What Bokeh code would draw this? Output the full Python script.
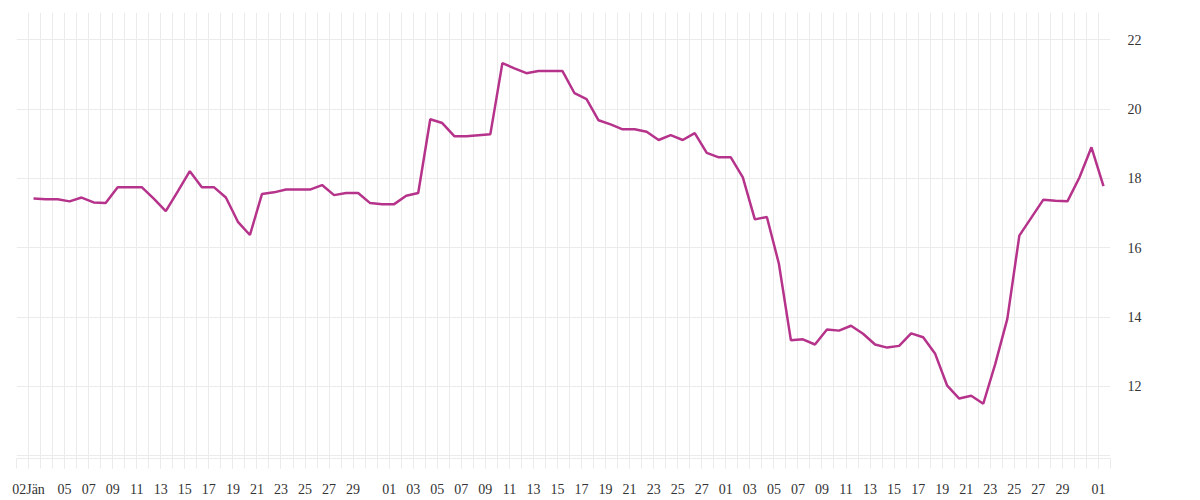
import pandas as pd
from bokeh.plotting import figure
from bokeh.models import Range1d, FixedTicker
from bokeh.embed import file_html
from bokeh.resources import INLINE

# daily values, 02 Jän .. 01 Apr
values = [
    17.42, 17.40, 17.40, 17.34, 17.45, 17.31, 17.29, 17.75, 17.75, 17.75,
    17.42, 17.06, 17.63, 18.21, 17.75, 17.75, 17.45, 16.75, 16.37, 17.55,
    17.60, 17.68, 17.68, 17.68, 17.81, 17.52, 17.58, 17.58, 17.29, 17.26,
    17.26, 17.50, 17.58, 19.71, 19.60, 19.22, 19.22, 19.25, 19.28, 21.33,
    21.18, 21.04, 21.10, 21.10, 21.10, 20.46, 20.29, 19.68, 19.56, 19.42,
    19.42, 19.35, 19.11, 19.25, 19.11, 19.31, 18.74, 18.61, 18.61, 18.03,
    16.82, 16.89, 15.54, 13.33, 13.36, 13.21, 13.64, 13.61, 13.75, 13.52,
    13.21, 13.12, 13.17, 13.53, 13.42, 12.94, 12.02, 11.65, 11.73, 11.50,
    12.65, 13.95, 16.35, 16.87, 17.39, 17.36, 17.34, 18.03, 18.90, 17.78,
]
first_day = "2023-01-02"
range_start = "2023-01-01"
range_end = "2023-04-02"

tick_dates = [
    "2023-01-02", "2023-01-05", "2023-01-07", "2023-01-09", "2023-01-11",
    "2023-01-13", "2023-01-15", "2023-01-17", "2023-01-19", "2023-01-21",
    "2023-01-23", "2023-01-25", "2023-01-27", "2023-01-29",
    "2023-02-01", "2023-02-03", "2023-02-05", "2023-02-07", "2023-02-09",
    "2023-02-11", "2023-02-13", "2023-02-15", "2023-02-17", "2023-02-19",
    "2023-02-21", "2023-02-23", "2023-02-25", "2023-02-27",
    "2023-03-01", "2023-03-03", "2023-03-05", "2023-03-07", "2023-03-09",
    "2023-03-11", "2023-03-13", "2023-03-15", "2023-03-17", "2023-03-19",
    "2023-03-21", "2023-03-23", "2023-03-25", "2023-03-27", "2023-03-29",
    "2023-04-01",
]
tick_labels = [
    "02Jän", "05", "07", "09", "11", "13", "15", "17", "19", "21", "23", "25", "27", "29",
    "01", "03", "05", "07", "09", "11", "13", "15", "17", "19", "21", "23", "25", "27",
    "01", "03", "05", "07", "09", "11", "13", "15", "17", "19", "21", "23", "25", "27", "29",
    "01",
]
y_ticks = [10, 12, 14, 16, 18, 20, 22]
y_labels = ["", "12", "14", "16", "18", "20", "22"]


def ms(d):
    return pd.Timestamp(d).value / 1e6


dates = pd.date_range(first_day, periods=len(values), freq="D") + pd.Timedelta(hours=10)
all_days = [ms(d) for d in pd.date_range(range_start, range_end, freq="D")]
tick_ms = [ms(d) for d in tick_dates]

grid_color = "#ebebeb"
font = "Liberation Serif"

p = figure(width=1200, height=500, x_axis_type="datetime", y_axis_location="right",
           x_range=Range1d(ms(range_start), ms(range_end)),
           y_range=Range1d(9.92, 22.79),
           output_backend="svg", toolbar_location=None,
           min_border_left=16, min_border_right=90, min_border_top=12, min_border_bottom=42)
p.outline_line_color = None

p.line(x=dates, y=values, line_color="#b6338b", line_width=2.5)

# x axis: labels every other day, ticks and grid every day
xa = p.xaxis[0]
xa.ticker = FixedTicker(ticks=tick_ms, minor_ticks=all_days)
xa.major_label_overrides = dict(zip(tick_ms, tick_labels))
xa.axis_line_color = grid_color
xa.major_tick_line_color = grid_color
xa.minor_tick_line_color = grid_color
xa.major_tick_in = 0
xa.major_tick_out = 10
xa.minor_tick_in = 0
xa.minor_tick_out = 10
xa.major_label_standoff = 13
xa.major_label_text_font = font
xa.major_label_text_font_size = "14px"
xa.major_label_text_color = "#333333"

p.xgrid.ticker = FixedTicker(ticks=all_days)
p.xgrid.grid_line_color = grid_color

# y axis on the right, no line / ticks
ya = p.yaxis[0]
ya.ticker = FixedTicker(ticks=y_ticks)
ya.major_label_overrides = dict(zip(y_ticks, y_labels))
ya.axis_line_color = None
ya.major_tick_line_color = None
ya.minor_tick_line_color = None
ya.major_tick_in = 0
ya.major_tick_out = 0
ya.major_label_standoff = 17
ya.major_label_text_font = font
ya.major_label_text_font_size = "14px"
ya.major_label_text_color = "#333333"

p.ygrid.ticker = FixedTicker(ticks=y_ticks)
p.ygrid.grid_line_color = grid_color

open("out.html", "w").write(file_html(p, INLINE))
